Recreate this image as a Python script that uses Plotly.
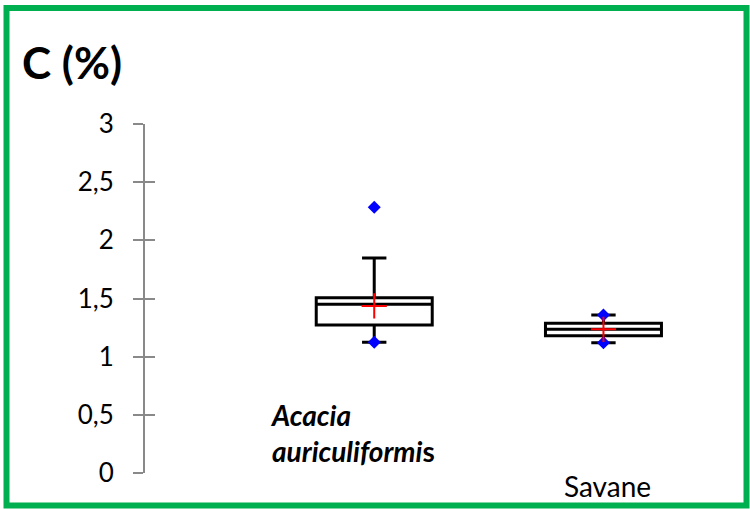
import plotly.graph_objects as go

# ---- data ----
categories = ["Acacia auriculiformis", "Savane"]
cat_pos = [0, 1]
q1 = [1.272, 1.180]
median = [1.450, 1.235]
q3 = [1.507, 1.287]
lower_whisker = [1.124, 1.120]
upper_whisker = [1.848, 1.358]
means = [1.436, 1.235]
# min / max / outlier markers (blue diamonds)
acacia_points = [2.284, 1.124]
savane_points = [1.358, 1.120]
tick_vals = [0, 0.5, 1, 1.5, 2, 2.5, 3]
tick_text = ["0", "0,5", "1", "1,5", "2", "2,5", "3"]

FONT = "Lato"
GRAY = "#898989"

fig = go.Figure()

fig.add_trace(go.Box(
    x=cat_pos, q1=q1, median=median, q3=q3,
    lowerfence=lower_whisker, upperfence=upper_whisker,
    boxpoints=False, width=0.506, whiskerwidth=0.21,
    fillcolor="white", line=dict(color="black", width=3),
    showlegend=False, hoverinfo="skip",
))

pts_x = [cat_pos[0]] * len(acacia_points) + [cat_pos[1]] * len(savane_points)
pts_y = acacia_points + savane_points
fig.add_trace(go.Scatter(
    x=pts_x, y=pts_y, mode="markers",
    marker=dict(symbol="diamond", color="#0000FF", size=10, line=dict(width=0)),
    showlegend=False, hoverinfo="skip",
))

fig.add_trace(go.Scatter(
    x=cat_pos, y=means, mode="markers",
    marker=dict(symbol="cross-thin", size=18, line=dict(color="#FF0000", width=2)),
    showlegend=False, hoverinfo="skip",
))

# invisible trace on second y-axis to get inside ticks (cross ticks)
fig.add_trace(go.Scatter(x=[None], y=[None], yaxis="y2", showlegend=False))

fig.update_layout(
    width=750, height=509,
    margin=dict(l=145, r=9, t=124, b=36),
    paper_bgcolor="white", plot_bgcolor="white",
    font=dict(family=FONT, color="black"),
    title=dict(text="<b>C (%)</b>", x=22 / 750, xanchor="left", xref="container",
               y=1 - 64 / 509, yanchor="middle", yref="container",
               font=dict(family=FONT, size=44, color="black")),
    xaxis=dict(range=[-1, 1.6], visible=False, showgrid=False, zeroline=False),
    yaxis=dict(range=[0, 3], tickvals=tick_vals, ticktext=tick_text,
               showline=True, linecolor=GRAY, linewidth=2,
               ticks="outside", ticklen=10, tickwidth=2, tickcolor=GRAY,
               showgrid=False, zeroline=False, ticklabelstandoff=14,
               tickfont=dict(family=FONT, size=26, color="black")),
    yaxis2=dict(range=[0, 3], overlaying="y", side="left", tickvals=tick_vals,
                showticklabels=False, ticks="inside", ticklen=10, tickwidth=2,
                tickcolor=GRAY, showline=False, showgrid=False, zeroline=False),
    shapes=[dict(type="rect", xref="paper", yref="paper",
                 x0=(6.5 - 145) / 596, x1=(746.5 - 145) / 596,
                 y0=(473 - 505.5) / 349, y1=(473 - 8) / 349,
                 line=dict(color="#00B050", width=6), fillcolor="rgba(0,0,0,0)",
                 layer="above")],
)

fig.add_annotation(
    x=cat_pos[0], xref="x", xanchor="left", xshift=-106,
    y=0.344, yref="y", yanchor="middle",
    text="<b><i>Acacia</i></b><br><b><i>auriculiformi</i>s</b>",
    align="left", showarrow=False,
    font=dict(family=FONT, size=28, color="black"),
)
fig.add_annotation(
    x=cat_pos[1], xref="x", xanchor="center", xshift=4,
    y=(473 - 486) / 349, yref="paper", yanchor="middle",
    text=categories[1], showarrow=False,
    font=dict(family=FONT, size=28, color="black"),
)

fig.write_html("out.html", config={"displayModeBar": False},
               post_script="document.body.style.margin='0';")
